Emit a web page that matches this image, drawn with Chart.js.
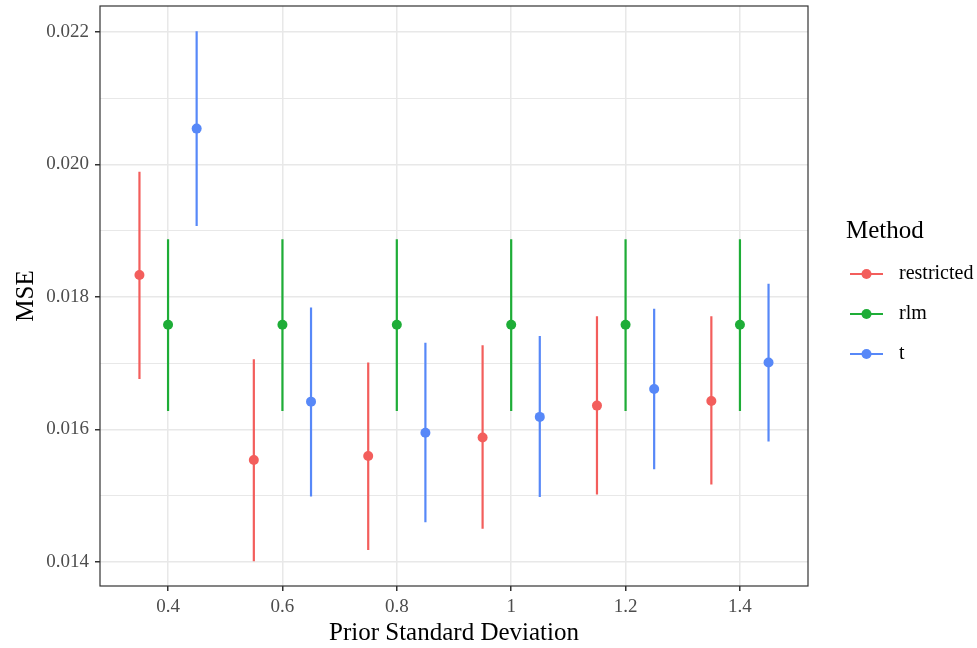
<!DOCTYPE html>
<html>
<head>
<meta charset="utf-8">
<title>MSE by prior standard deviation</title>
<script src="https://cdn.jsdelivr.net/npm/chart.js@4.4.0/dist/chart.umd.min.js"></script>
<style>
  html, body { margin: 0; padding: 0; background: #fff; }
  #chart { display: block; }
</style>
</head>
<body>
<canvas id="chart" width="977" height="648"></canvas>
<script>
// Data
const priorSD = [0.4, 0.6, 0.8, 1.0, 1.2, 1.4];
const xTickLabels = ['0.4', '0.6', '0.8', '1', '1.2', '1.4'];
const yGridValues = [0.014, 0.015, 0.016, 0.017, 0.018, 0.019, 0.020, 0.021, 0.022];

const methods = ['restricted', 'rlm', 't'];

const restrictedMse = [0.01833, 0.01554, 0.01560, 0.01588, 0.01636, 0.01643];
const restrictedLo  = [0.01676, 0.01401, 0.01418, 0.01450, 0.01502, 0.01517];
const restrictedHi  = [0.01989, 0.01706, 0.01701, 0.01727, 0.01771, 0.01771];

const rlmMse = [0.01758, 0.01758, 0.01758, 0.01758, 0.01758, 0.01758];
const rlmLo  = [0.01628, 0.01628, 0.01628, 0.01628, 0.01628, 0.01628];
const rlmHi  = [0.01887, 0.01887, 0.01887, 0.01887, 0.01887, 0.01887];

const tMse = [0.02054, 0.01642, 0.01595, 0.01619, 0.01661, 0.01701];
const tLo  = [0.01907, 0.01499, 0.01460, 0.01498, 0.01540, 0.01582];
const tHi  = [0.02201, 0.01784, 0.01731, 0.01741, 0.01782, 0.01820];

// Styling
const COLORS = ['#F35E5C', '#1EAD37', '#5788F8'];
const DODGE = [-0.05, 0, 0.05];
const FONT = "'Liberation Serif', 'Times New Roman', serif";
const GRID = '#E8E8E8';

const series = [
  { mse: restrictedMse, lo: restrictedLo, hi: restrictedHi },
  { mse: rlmMse, lo: rlmLo, hi: rlmHi },
  { mse: tMse, lo: tLo, hi: tHi },
];

/**
 * Build error bar segments (lo -> hi) with gaps between them
 */
function errorBarData(s, offset) {
  const out = [];
  priorSD.forEach((x, i) => {
    out.push({ x: x + offset, y: s.lo[i] });
    out.push({ x: x + offset, y: s.hi[i] });
    out.push({ x: x + offset, y: null });
  });
  return out;
}

const datasets = [];
series.forEach((s, idx) => {
  datasets.push({
    label: methods[idx] + ' range',
    data: errorBarData(s, DODGE[idx]),
    showLine: true,
    spanGaps: false,
    borderColor: COLORS[idx],
    borderWidth: 2.2,
    pointRadius: 0,
    order: 2,
  });
  datasets.push({
    label: methods[idx],
    data: priorSD.map((x, i) => ({ x: x + DODGE[idx], y: s.mse[i] })),
    showLine: false,
    backgroundColor: COLORS[idx],
    borderColor: COLORS[idx],
    pointRadius: 5,
    pointBorderWidth: 0,
    order: 1,
  });
});

const isMajorY = v => Math.round(v * 1000) % 2 === 0;

// Panel border + legend, ggplot style
const decorations = {
  id: 'decorations',
  afterDraw(chart) {
    const { ctx, chartArea: a } = chart;
    ctx.save();
    ctx.strokeStyle = '#333333';
    ctx.lineWidth = 1.2;
    ctx.strokeRect(a.left, a.top, a.right - a.left, a.bottom - a.top);

    ctx.fillStyle = '#000';
    ctx.textAlign = 'left';
    ctx.textBaseline = 'alphabetic';
    ctx.font = `25px ${FONT}`;
    ctx.fillText('Method', 846, 238);

    ctx.font = `20px ${FONT}`;
    ctx.textBaseline = 'middle';
    methods.forEach((m, i) => {
      const y = 274 + i * 40;
      ctx.strokeStyle = COLORS[i];
      ctx.lineWidth = 2.2;
      ctx.beginPath();
      ctx.moveTo(850, y);
      ctx.lineTo(883, y);
      ctx.stroke();
      ctx.fillStyle = COLORS[i];
      ctx.beginPath();
      ctx.arc(866.5, y, 5, 0, Math.PI * 2);
      ctx.fill();
      ctx.fillStyle = '#000';
      ctx.fillText(m, 899, y);
    });
    ctx.restore();
  },
};

new Chart(document.getElementById('chart'), {
  type: 'scatter',
  data: { datasets },
  plugins: [decorations],
  options: {
    responsive: false,
    animation: false,
    layout: { padding: { left: 0, top: 6, right: 169, bottom: 0 } },
    plugins: {
      legend: { display: false },
      tooltip: { enabled: false },
    },
    scales: {
      x: {
        type: 'linear',
        min: 0.281,
        max: 1.519,
        afterBuildTicks: scale => {
          scale.ticks = priorSD.map(v => ({ value: v }));
        },
        afterFit: scale => {
          scale.height = 62;
          scale.paddingLeft = 0;
          scale.paddingRight = 0;
        },
        ticks: {
          font: { family: FONT, size: 19 },
          color: '#4D4D4D',
          padding: 5,
          maxRotation: 0,
          callback: (v) => {
            const i = priorSD.findIndex(p => Math.abs(p - v) < 1e-9);
            return i >= 0 ? xTickLabels[i] : '';
          },
        },
        grid: {
          color: GRID,
          lineWidth: 1.5,
          tickColor: '#333333',
          tickLength: 5,
        },
        border: { display: false },
        title: {
          display: true,
          text: 'Prior Standard Deviation',
          font: { family: FONT, size: 25 },
          color: '#000',
          padding: { top: 4, bottom: 0 },
        },
      },
      y: {
        type: 'linear',
        min: 0.013638,
        max: 0.02239,
        afterBuildTicks: scale => {
          scale.ticks = yGridValues.map(v => ({ value: v }));
        },
        afterFit: scale => {
          scale.width = 100;
          scale.paddingTop = 0;
          scale.paddingBottom = 0;
        },
        ticks: {
          font: { family: FONT, size: 19 },
          color: '#4D4D4D',
          padding: 6,
          callback: v => (isMajorY(v) ? v.toFixed(3) : ''),
        },
        grid: {
          color: GRID,
          lineWidth: ctx => (ctx.tick && isMajorY(ctx.tick.value) ? 1.5 : 1),
          tickColor: ctx => (ctx.tick && isMajorY(ctx.tick.value) ? '#333333' : 'rgba(0,0,0,0)'),
          tickLength: 5,
        },
        border: { display: false },
        title: {
          display: true,
          text: 'MSE',
          font: { family: FONT, size: 25 },
          color: '#000',
          padding: { top: 11, bottom: 0 },
        },
      },
    },
  },
});
</script>
</body>
</html>
